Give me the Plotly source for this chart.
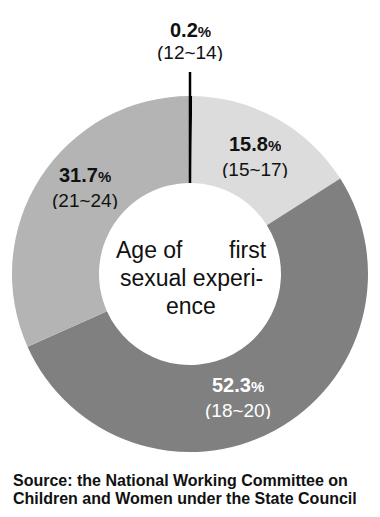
import plotly.graph_objects as go

# ---- data ----
age_groups = ["12~14", "15~17", "18~20", "21~24"]
shares = [0.2, 15.8, 52.3, 31.7]
slice_colors = ["#000000", "#dcdcdc", "#808080", "#b4b4b4"]
label_colors = ["#111111", "#111111", "#ffffff", "#111111"]
center_lines = ["Age of", "first", "sexual experi-", "ence"]
source_lines = ["Source: the National Working Committee on",
                "Children and Women under the State Council"]

W, H = 380, 517
CX, CY, R = 190, 274, 178
HOLE = 91 / 178

def px(x):
    return x / W

def py(y):
    return 1 - y / H

fig = go.Figure(go.Pie(
    labels=age_groups,
    values=shares,
    sort=False,
    direction="clockwise",
    rotation=0,
    hole=HOLE,
    marker=dict(colors=slice_colors, line=dict(width=0)),
    textinfo="none",
    hoverinfo="label+percent",
    domain=dict(x=[px(CX - R), px(CX + R)], y=[py(CY + R), py(CY - R)]),
    showlegend=False,
))

LABEL_FONT = "Liberation Sans, Arial, sans-serif"

# label positions (pixels) for pct line and range line
label_pos = [(190, 30, 52), (255, 144, 169), (238, 385, 410), (85, 175, 200)]

annotations = []
for grp, val, col, (x, y1, y2) in zip(age_groups, shares, label_colors, label_pos):
    annotations.append(dict(
        x=px(x), y=py(y1), xref="paper", yref="paper", showarrow=False,
        text=f"<b>{val:.1f}<span style='font-size:15px'>%</span></b>",
        font=dict(family=LABEL_FONT, size=20, color=col), height=18,
        xanchor="center", yanchor="middle"))
    annotations.append(dict(
        x=px(x), y=py(y2), xref="paper", yref="paper", showarrow=False,
        text=f"({grp})",
        font=dict(family=LABEL_FONT, size=19, color=col), height=18,
        xanchor="center", yanchor="middle"))

cfont = dict(family=LABEL_FONT, size=23, color="#111111")
annotations += [
    dict(x=px(114), y=py(250), xref="paper", yref="paper", showarrow=False,
         text=center_lines[0], font=cfont, xanchor="left", yanchor="middle"),
    dict(x=px(269), y=py(250), xref="paper", yref="paper", showarrow=False,
         text=center_lines[1], font=cfont, xanchor="right", yanchor="middle"),
    dict(x=px(191), y=py(278), xref="paper", yref="paper", showarrow=False,
         text=center_lines[2], font=cfont, xanchor="center", yanchor="middle"),
    dict(x=px(191), y=py(306), xref="paper", yref="paper", showarrow=False,
         text=center_lines[3], font=cfont, xanchor="center", yanchor="middle"),
]

sfont = dict(family=LABEL_FONT, size=16, color="#111111")
for i, line in enumerate(source_lines):
    annotations.append(dict(
        x=px(11), y=py(480 + 18 * i), xref="paper", yref="paper", showarrow=False,
        text=f"<b>{line}</b>", font=sfont, height=17, xanchor="left", yanchor="middle"))

fig.update_layout(
    width=W, height=H,
    margin=dict(l=0, r=0, t=0, b=0),
    paper_bgcolor="white", plot_bgcolor="white",
    annotations=annotations,
    shapes=[dict(type="line", xref="paper", yref="paper",
                 x0=px(CX), x1=px(CX), y0=py(72), y1=py(CY - R * HOLE),
                 line=dict(color="#000000", width=2.5))],
)

fig.write_html("out.html", config={"displayModeBar": False},
               post_script="document.body.style.margin='0';document.body.style.overflow='hidden';")
